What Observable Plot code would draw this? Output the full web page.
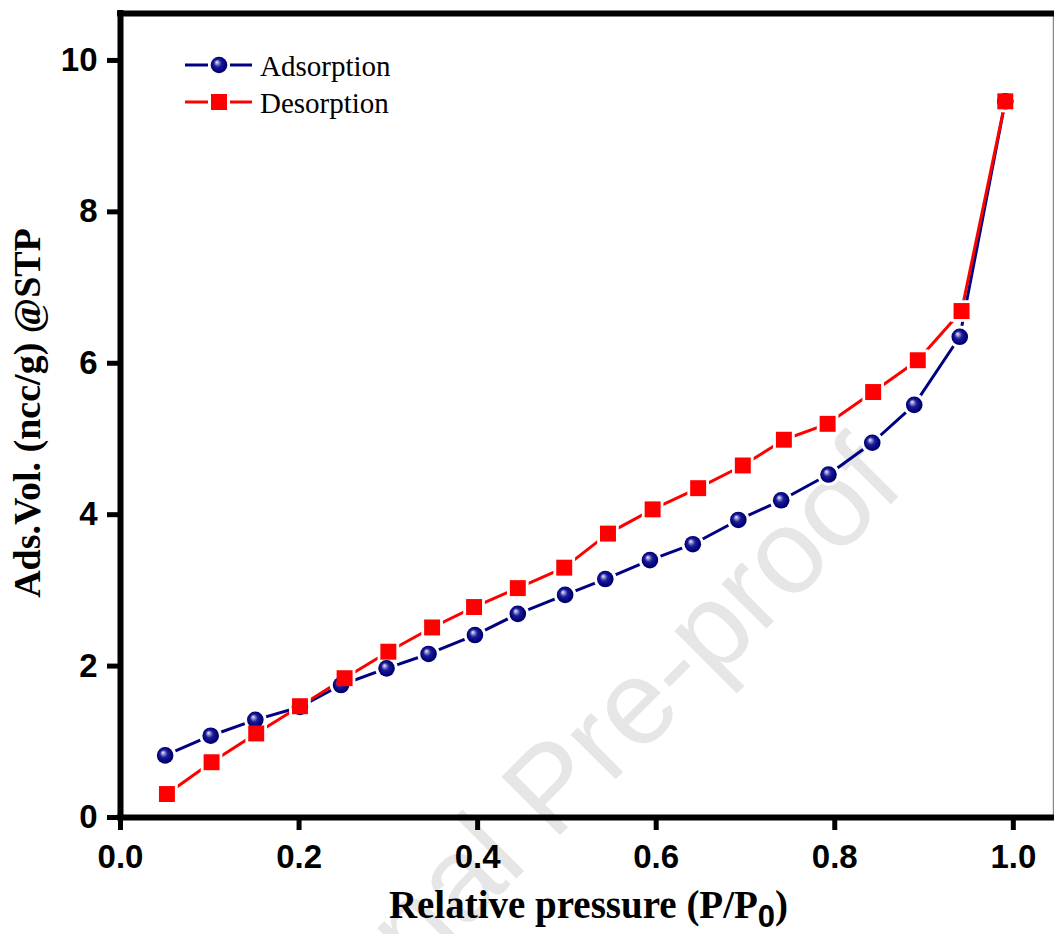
<!DOCTYPE html>
<html>
<head>
<meta charset="utf-8">
<script src="https://cdn.jsdelivr.net/npm/d3@7"></script>
<script src="https://cdn.jsdelivr.net/npm/@observablehq/plot@0.6"></script>
<style>
  html, body { margin: 0; padding: 0; background: #fff; }
  #wrap { position: relative; width: 1054px; height: 934px; overflow: hidden; background: #fff; }
  #wm { position: absolute; left: 0; top: 0; }
  #chart { position: absolute; left: 0; top: 0; }
  #chart svg text { fill: #000; }
  .tick-lab text { font-family: "Liberation Sans", Arial, sans-serif; font-weight: bold; font-size: 33px; }
  #legend { position: absolute; left: 0; top: 0; width: 1054px; height: 934px; pointer-events: none; }
</style>
</head>
<body>
<div id="wrap">
  <svg id="wm" width="1054" height="934"></svg>
  <div id="chart"></div>
  <svg id="legend" width="1054" height="934"></svg>
</div>
<script>
// ---- data ----
const seriesNames = ["Adsorption", "Desorption"];
const pressureAds = [0.050, 0.101, 0.151, 0.201, 0.247, 0.298, 0.345, 0.397, 0.445, 0.498,
                     0.543, 0.593, 0.641, 0.692, 0.740, 0.793, 0.842, 0.889, 0.940, 0.991];
const volumeAds   = [0.82, 1.08, 1.29, 1.46, 1.75, 1.97, 2.16, 2.41, 2.69, 2.94,
                     3.15, 3.40, 3.61, 3.93, 4.19, 4.53, 4.95, 5.45, 6.35, 9.46];
const pressureDes = [0.052, 0.102, 0.152, 0.201, 0.251, 0.300, 0.349, 0.396, 0.445, 0.497,
                     0.546, 0.596, 0.647, 0.697, 0.743, 0.792, 0.843, 0.893, 0.942, 0.991];
const volumeDes   = [0.31, 0.73, 1.11, 1.47, 1.84, 2.19, 2.51, 2.78, 3.03, 3.30,
                     3.75, 4.07, 4.35, 4.65, 4.99, 5.20, 5.62, 6.04, 6.69, 9.46];
const xTicks = [0.0, 0.2, 0.4, 0.6, 0.8, 1.0];
const yTicks = [0, 2, 4, 6, 8, 10];
const xDomain = [0, 1.045];
const yDomain = [0, 10.62];
const xLabelMain = "Relative pressure (P/P";
const xLabelSub = "0";
const xLabelEnd = ")";
const yLabel = "Ads.Vol. (ncc/g) @STP";
const watermark = "Journal Pre-proof";

const navy = "#000080", red = "#ff0000";

const ads = pressureAds.map((p, i) => ({p, v: volumeAds[i], s: seriesNames[0]}));
const des = pressureDes.map((p, i) => ({p, v: volumeDes[i], s: seriesNames[1]}));

const chart = Plot.plot({
  width: 1054,
  height: 934,
  marginLeft: 120,
  marginRight: 1,
  marginTop: 13,
  marginBottom: 117,
  style: {background: "transparent", fontFamily: "'Liberation Sans', Arial, sans-serif", overflow: "visible"},
  x: {domain: xDomain, label: null},
  y: {domain: yDomain, label: null},
  marks: [
    Plot.axisX(xTicks, {tickSize: 13, strokeWidth: 5, tickPadding: 14, tickFormat: d3.format(".1f"),
      fontSize: 33, fontWeight: "bold", label: null, className: "tick-lab"}),
    Plot.axisY(yTicks, {tickSize: 13, strokeWidth: 5, tickPadding: 10, tickFormat: d3.format("d"),
      fontSize: 33, fontWeight: "bold", label: null, className: "tick-lab"}),
    Plot.ruleX([xDomain[1]], {stroke: "#8a8a8a", strokeWidth: 1.5}),
    Plot.line(ads, {x: "p", y: "v", stroke: navy, strokeWidth: 3}),
    Plot.line(des, {x: "p", y: "v", stroke: red, strokeWidth: 3}),
    Plot.dot(ads, {x: "p", y: "v", r: 11.3, fill: "white"}),
    Plot.dot(des, {x: "p", y: "v", symbol: "square", r: 12.2, fill: "white"}),
    Plot.dot(ads, {x: "p", y: "v", r: 8.3, fill: "url(#ballGrad)"}),
    Plot.dot(des, {x: "p", y: "v", symbol: "square", r: 9, fill: red}),
    Plot.ruleX([xDomain[0]], {stroke: "black", strokeWidth: 6, strokeLinecap: "square"}),
    Plot.ruleY([yDomain[0]], {stroke: "black", strokeWidth: 6, strokeLinecap: "square"}),
    Plot.ruleY([yDomain[1]], {stroke: "black", strokeWidth: 6, strokeLinecap: "square"})
  ]
});
document.getElementById("chart").appendChild(chart);

const svg = d3.select(chart);
// gradient for glossy balls
const defs = svg.insert("defs", ":first-child");
const grad = defs.append("radialGradient").attr("id", "ballGrad")
  .attr("cx", "0.5").attr("cy", "0.5").attr("r", "0.55").attr("fx", "0.36").attr("fy", "0.32");
[[0, "#f4f4ff"], [0.16, "#9a9ad8"], [0.42, "#1c1c98"], [0.8, "#000078"], [1, "#00005a"]]
  .forEach(([o, c]) => grad.append("stop").attr("offset", o).attr("stop-color", c));

// axis titles, placed from the plot's scale ranges
const sx = chart.scale("x"), sy = chart.scale("y");
const xMid = (sx.range[0] + sx.range[1]) / 2;
const yMid = (sy.range[0] + sy.range[1]) / 2;
const xt = svg.append("text")
  .attr("x", xMid + 2).attr("y", sy.range[0] + 101)
  .attr("text-anchor", "middle")
  .style("font-family", "'Liberation Serif', 'Times New Roman', serif")
  .style("font-weight", "bold").style("font-size", "39px");
xt.append("tspan").text(xLabelMain);
xt.append("tspan").attr("dy", 9)
  .style("font-family", "'Liberation Sans', Arial, sans-serif").style("font-size", "31px").text(xLabelSub);
xt.append("tspan").attr("dy", -9).text(xLabelEnd);

svg.append("text")
  .attr("transform", `translate(${sx.range[0] - 80},${yMid - 2}) rotate(-90)`)
  .attr("text-anchor", "middle")
  .style("font-family", "'Liberation Serif', 'Times New Roman', serif")
  .style("font-weight", "bold").style("font-size", "38px")
  .text(yLabel);

// watermark (behind the chart)
d3.select("#wm").append("text")
  .attr("transform", "translate(579,816) rotate(-45)")
  .attr("text-anchor", "middle")
  .style("font-family", "'Liberation Sans', Arial, sans-serif")
  .style("font-size", "120px").style("fill", "#e6e6e6")
  .text(watermark);

// legend (top-left inside the frame)
const lg = d3.select("#legend");
const legendItems = [
  {name: seriesNames[0], color: navy, shape: "circle", y: 65},
  {name: seriesNames[1], color: red, shape: "square", y: 102}
];
legendItems.forEach(it => {
  const g = lg.append("g");
  g.append("line").attr("x1", 185).attr("x2", 208).attr("y1", it.y).attr("y2", it.y)
    .attr("stroke", it.color).attr("stroke-width", 3);
  g.append("line").attr("x1", 230).attr("x2", 252).attr("y1", it.y).attr("y2", it.y)
    .attr("stroke", it.color).attr("stroke-width", 3);
  if (it.shape === "circle") {
    g.append("circle").attr("cx", 219).attr("cy", it.y).attr("r", 8.3).attr("fill", "url(#ballGrad)");
  } else {
    g.append("rect").attr("x", 211).attr("y", it.y - 8).attr("width", 16).attr("height", 16).attr("fill", it.color);
  }
  g.append("text").attr("x", 260).attr("y", it.y + 10.5)
    .style("font-family", "'Liberation Serif', 'Times New Roman', serif")
    .style("font-size", "29px").style("fill", "#000")
    .text(it.name);
});
</script>
</body>
</html>
